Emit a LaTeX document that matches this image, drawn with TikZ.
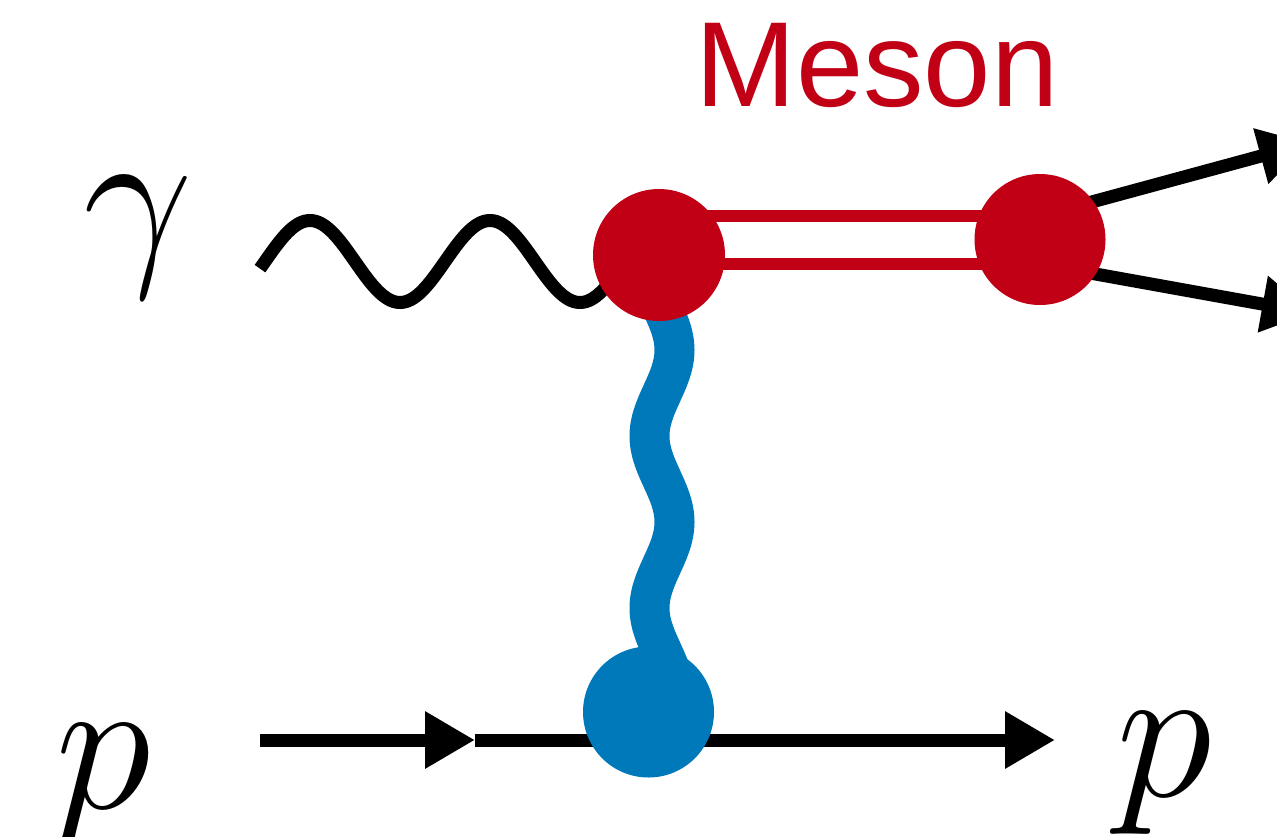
\RequirePackage{fix-cm}
\documentclass[tikz,border=0pt]{standalone}
\usepackage{fontspec}
\newfontfamily\labelsans{Liberation Sans}
\usetikzlibrary{arrows.meta}
\definecolor{mesonred}{RGB}{193,0,22}
\definecolor{exblue}{RGB}{0,121,186}
\begin{document}
\begin{tikzpicture}[x=1pt,y=-1pt,
  fermion/.style={line width=13pt},
  photon/.style={line width=13pt},
  exchange/.style={draw=exblue, line width=40pt},
  mesonline/.style={draw=mesonred, line width=12pt, double=white, double distance=36pt},
  redvertex/.style={circle, fill=mesonred, inner sep=0pt, minimum size=132pt},
  bluevertex/.style={circle, fill=exblue, inner sep=0pt, minimum size=131pt},
  tip/.style={-{Triangle[length=50pt,width=54pt]}},
  mathlabel/.style={inner sep=0pt, anchor=base, font=\fontsize{195}{200}\selectfont},
  mesonlabel/.style={inner sep=0pt, anchor=base, text=mesonred,
    font=\labelsans\fontsize{121}{130}\selectfont},
]
\useasboundingbox (0,0) rectangle (1277,836);

% vertices and free line ends
\coordinate (v1) at (659,255);
\coordinate (v2) at (1040,239.5);
\coordinate (v3) at (648.5,712);
\coordinate (pin) at (260,740);
\coordinate (pmid) at (475,740);
\coordinate (pend) at (1055,740);
\coordinate (d1) at (1040,216);
\coordinate (d2) at (1040,264);
\coordinate (out1) at (1309,143);
\coordinate (out2) at (1312,313);

% photon: sine wave from its free end into the upper vertex
\draw[photon] plot[domain=260:659, samples=160, smooth]
  (\x, {261.5-41*sin(2*(\x-265))});
% exchanged meson: vertical wiggle between the two vertices
\draw[exchange] plot[domain=255:712, samples=160, smooth]
  ({662+12.5*cos(2.093*(\x-350))}, \x);
% incoming and outgoing proton
\draw[fermion, tip] (pin) -- (pmid);
\draw[fermion, tip] (pmid) -- (pend);
% decay products
\draw[fermion, tip] (d1) -- (out1);
\draw[fermion, tip] (d2) -- (out2);
% produced meson
\draw[mesonline] (v1 |- v2) -- (v2);

% vertex blobs
\node[redvertex] (blob1) at (v1) {};
\node[redvertex, minimum size=131pt] (blob2) at (v2) {};
\node[bluevertex] (blob3) at (v3) {};

% labels
\node[mathlabel] (lgamma) at (138,260) {$\gamma$};
\node[mathlabel] (lpin) at (103,808) {$p$};
\node[mathlabel] (lpout) at (1164,796) {$p$};
\node[mesonlabel] (lmeson) at (877,106) {Meson};
\end{tikzpicture}
\end{document}
